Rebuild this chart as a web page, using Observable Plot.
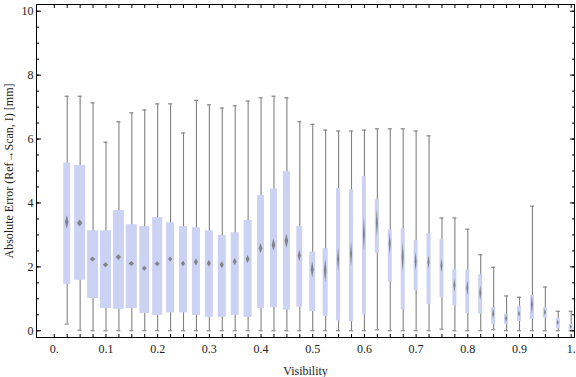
<!DOCTYPE html>
<html><head><meta charset="utf-8">
<script src="https://cdn.jsdelivr.net/npm/d3@7"></script>
<script src="https://cdn.jsdelivr.net/npm/@observablehq/plot@0.6"></script>
<style>body{margin:0;background:#fff}</style>
</head><body><div id="chart"></div>
<script>
// Visibility bins (box centres)
const visibility = [0.025,0.05,0.075,0.1,0.125,0.15,0.175,0.2,0.225,0.25,
  0.275,0.3,0.325,0.35,0.375,0.4,0.425,0.45,0.475,0.5,
  0.525,0.55,0.575,0.6,0.625,0.65,0.675,0.7,0.725,0.75,
  0.775,0.8,0.825,0.85,0.875,0.9,0.925,0.95,0.975,1.0];
const whiskerLow = [0.21,0.02,0,0,0,0,0,0,0,0, 0,0,0,0,0,0,0,0,0,0,
  0,0,0,0,0.03,0,0,0,0,0.05, 0,0,0,0.03,0,0,0,0,0,0];
const q1 = [1.45,1.58,1.01,0.70,0.67,0.70,0.54,0.48,0.56,0.56,
  0.48,0.42,0.42,0.48,0.42,0.70,0.73,0.65,0.74,0.60,
  0.45,0.31,0.28,0.50,2.43,1.53,0.66,1.26,0.82,1.04,
  0.79,0.54,0.52,0.19,0.20,0.29,0.35,0.40,0.07,0.00];
const q3 = [5.25,5.17,3.13,3.13,3.76,3.32,3.26,3.54,3.38,3.26,
  3.22,3.13,2.98,3.07,3.45,4.23,4.44,4.98,3.26,2.46,
  2.57,4.45,4.41,4.82,4.10,3.16,3.19,2.82,3.04,2.85,
  1.91,1.91,1.75,0.72,0.52,0.77,1.10,0.72,0.39,0.20];
const whiskerHigh = [7.34,7.34,7.13,5.90,6.54,6.82,6.91,7.10,7.10,6.19,
  7.21,7.07,6.97,7.04,7.19,7.29,7.34,7.29,6.54,6.46,
  6.28,6.25,6.25,6.28,6.32,6.32,6.32,6.25,6.10,3.53,
  3.53,3.18,2.38,1.99,1.09,1.05,3.90,1.37,0.61,0.61];
const meanErr = [3.39,3.36,2.23,2.05,2.29,2.09,1.94,2.08,2.23,2.09,
  2.14,2.10,2.05,2.15,2.23,2.57,2.68,2.80,2.34,1.90,
  1.87,2.22,2.39,3.02,3.36,2.71,2.29,2.16,2.14,2.03,
  1.41,1.33,1.18,0.52,0.37,0.52,0.81,0.57,0.24,0.11];
const meanCI = [0.21,0.11,0.08,0.08,0.09,0.08,0.08,0.08,0.08,0.09,
  0.11,0.11,0.11,0.11,0.12,0.16,0.19,0.22,0.18,0.25,
  0.37,0.39,0.39,0.52,0.42,0.34,0.47,0.29,0.21,0.21,
  0.21,0.23,0.23,0.16,0.12,0.10,0.29,0.10,0.08,0.06];
// relative sample size of each bin (drives box width)
const relSampleSize = [0.54,0.85,0.85,0.85,0.85,0.85,0.77,0.77,0.62,0.62,
  0.62,0.62,0.62,0.62,0.62,0.54,0.54,0.54,0.46,0.46,
  0.39,0.31,0.31,0.31,0.31,0.31,0.31,0.31,0.31,0.31,
  0.31,0.31,0.31,0.31,0.31,0.31,0.31,0.31,0.31,0.31];

const xTickValues = [0,0.1,0.2,0.3,0.4,0.5,0.6,0.7,0.8,0.9,1];
const xTickLabels = ["0.","0.1","0.2","0.3","0.4","0.5","0.6","0.7","0.8","0.9","1."];
const yTickValues = [0,2,4,6,8,10];
const yTickLabels = ["0","2","4","6","8","10"];

const slot = 0.025;
const capHalf = 0.004;
const rows = visibility.map((v,i)=>({v, lo:whiskerLow[i], q1:q1[i], q3:q3[i], hi:whiskerHigh[i],
  mean:meanErr[i], ci:meanCI[i], w:relSampleSize[i]}));
const diamond = rows.flatMap((r,i)=>{
  const dw = r.w*slot*0.25;
  return [{id:i,x:r.v-dw,y1:r.mean,y2:r.mean},{id:i,x:r.v,y1:r.mean-r.ci,y2:r.mean+r.ci},{id:i,x:r.v+dw,y1:r.mean,y2:r.mean}];
});
const xMinor = [0, ...visibility];
const yMinor = d3.range(0, 10.001, 0.5);

const gray = "#808080";
const chart = Plot.plot({
  width:576, height:377, marginTop:4, marginBottom:40, marginLeft:36, marginRight:2,
  style:{fontFamily:"'Liberation Serif', 'Times New Roman', serif", fontSize:"12px", background:"white", color:"#222"},
  x:{domain:[-0.0344,1.0064]},
  y:{domain:[-0.21,10.21]},
  marks:[
    Plot.ruleX(rows,{x:"v",y1:"lo",y2:"hi",stroke:gray,strokeWidth:1.1}),
    Plot.ruleY(rows,{y:"hi",x1:d=>d.v-capHalf,x2:d=>d.v+capHalf,stroke:gray,strokeWidth:1.1}),
    Plot.ruleY(rows,{y:"lo",x1:d=>d.v-capHalf,x2:d=>d.v+capHalf,stroke:gray,strokeWidth:1.1}),
    Plot.rect(rows,{x1:d=>d.v-d.w*slot/2,x2:d=>d.v+d.w*slot/2,y1:"q1",y2:"q3",fill:"#cbd2f4"}),
    Plot.areaY(diamond,{x:"x",y1:"y1",y2:"y2",z:"id",fill:"#7a7a7a",fillOpacity:0.9,curve:"linear"}),
    Plot.frame({stroke:"black"}),
    Plot.axisX(xMinor,{anchor:"bottom",tickSize:-3,tickFormat:()=>"",label:null,stroke:"black"}),
    Plot.axisX(xMinor,{anchor:"top",tickSize:-3,tickFormat:()=>"",label:null,stroke:"black"}),
    Plot.axisX(xTickValues,{anchor:"bottom",tickSize:0,tickPadding:7,tickFormat:d=>xTickLabels[xTickValues.indexOf(d)],label:null,fill:"#222"}),
    Plot.axisY(yMinor,{anchor:"left",tickSize:-3,tickFormat:()=>"",label:null,stroke:"black"}),
    Plot.axisY(yMinor,{anchor:"right",tickSize:-3,tickFormat:()=>"",label:null,stroke:"black"}),
    Plot.axisY(yTickValues,{anchor:"left",tickSize:-5,tickFormat:()=>"",label:null,stroke:"black"}),
    Plot.axisY(yTickValues,{anchor:"right",tickSize:-5,tickFormat:()=>"",label:null,stroke:"black"}),
    Plot.axisY(yTickValues,{anchor:"left",tickSize:0,tickPadding:3,tickFormat:d=>yTickLabels[yTickValues.indexOf(d)],label:null,fill:"#222"}),
    Plot.text(["Visibility"],{frameAnchor:"bottom",dy:34,lineAnchor:"middle",textAnchor:"middle",text:d=>d,fill:"#222"}),
    Plot.text(["Absolute Error (Ref\u2192Scan, I) [mm]"],{frameAnchor:"left",dx:-27,rotate:-90,lineAnchor:"middle",textAnchor:"middle",text:d=>d,fill:"#222"})
  ]
});
document.getElementById("chart").appendChild(chart);
</script>
</body></html>
